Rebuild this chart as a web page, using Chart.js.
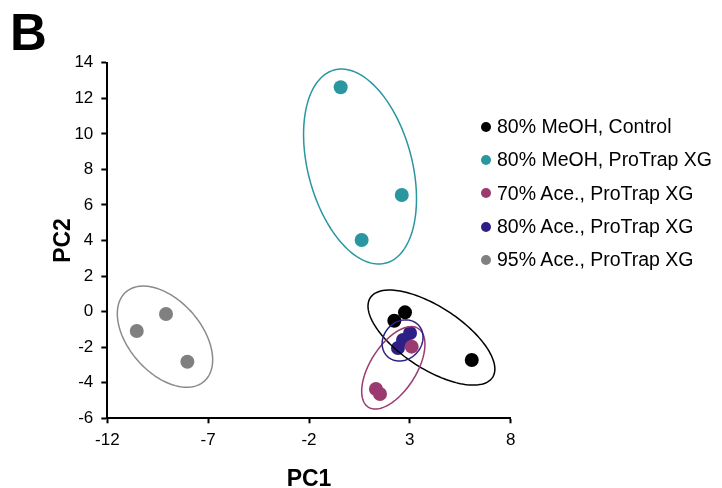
<!DOCTYPE html>
<html><head><meta charset="utf-8">
<script src="https://cdn.jsdelivr.net/npm/chart.js@4"></script>
<style>
html,body{margin:0;padding:0;background:#fff;}
#wrap{position:relative;width:722px;height:488px;font-family:"Liberation Sans",Arial,sans-serif;color:#000;}
canvas{position:absolute;left:0;top:0;}
#panel{position:absolute;left:10px;top:7px;font-weight:bold;font-size:51px;line-height:51px;}
#legend{position:absolute;left:481px;top:110px;font-size:19.5px;}
.item{height:33.3px;display:flex;align-items:center;white-space:nowrap;}
.dot{width:10px;height:10px;border-radius:50%;margin-right:6px;flex:none;}
</style></head>
<body>
<div id="wrap">
<canvas id="c" width="722" height="488"></canvas>
<div id="panel">B</div>
<div id="legend"></div>
</div>
<script>
// ---- data ----
const seriesLabels = ["80% MeOH, Control", "80% MeOH, ProTrap XG", "70% Ace., ProTrap XG", "80% Ace., ProTrap XG", "95% Ace., ProTrap XG"];
const meohControlPC1 = [2.23, 2.76, 6.07];
const meohControlPC2 = [-0.51, -0.04, -2.72];
const meohProTrapPC1 = [-0.43, 2.60, 0.61];
const meohProTrapPC2 = [12.62, 6.56, 4.03];
const ace70PC1 = [1.32, 1.52, 3.09];
const ace70PC2 = [-4.35, -4.63, -1.97];
const ace80PC1 = [2.41, 2.66, 3.01];
const ace80PC2 = [-2.05, -1.60, -1.20];
const ace95PC1 = [-10.54, -9.09, -8.03];
const ace95PC2 = [-1.09, -0.13, -2.82];
const xTicks = [-12, -7, -2, 3, 8];
const yTicks = [-6, -4, -2, 0, 2, 4, 6, 8, 10, 12, 14];
// grouping ellipses (data units): centre, semi-major vector, semi-minor vector
const ellipseCenterPC1 = [4.07, 0.53, 2.18, 2.64, -9.14];
const ellipseCenterPC2 = [-1.46, 8.16, -3.16, -1.62, -1.41];
const ellipseMajorPC1 = [3.03, 1.28, 1.24, 0.77, 1.94];
const ellipseMajorPC2 = [-2.24, -5.43, 2.21, 0.88, -2.51];
const ellipseMinorPC1 = [-0.84, 2.49, 0.96, 0.66, -1.35];
const ellipseMinorPC2 = [-1.46, 0.76, -0.70, -0.75, -1.34];

const seriesPC1 = [meohControlPC1, meohProTrapPC1, ace70PC1, ace80PC1, ace95PC1];
const seriesPC2 = [meohControlPC2, meohProTrapPC2, ace70PC2, ace80PC2, ace95PC2];
const colors = ["#000000", "#2a96a0", "#9b3a6e", "#2e1f86", "#808080"];
const ellipseColors = ["#000000", "#2a96a0", "#9b3a6e", "#2e1f86", "#8a8a8a"];

const datasets = seriesLabels.map((lab, i) => ({
  label: lab,
  data: seriesPC1[i].map((v, k) => ({x: v, y: seriesPC2[i][k]})),
  backgroundColor: colors[i],
  borderWidth: 0,
  pointRadius: 7,
  pointHoverRadius: 7
}));

const ellipsePlugin = {
  id: 'ellipses',
  afterDatasetsDraw(chart) {
    const {ctx, scales: {x, y}} = chart;
    ctx.save();
    for (let i = 0; i < ellipseCenterPC1.length; i++) {
      const cx = x.getPixelForValue(ellipseCenterPC1[i]);
      const cy = y.getPixelForValue(ellipseCenterPC2[i]);
      const ux = x.getPixelForValue(ellipseCenterPC1[i] + ellipseMajorPC1[i]) - cx;
      const uy = y.getPixelForValue(ellipseCenterPC2[i] + ellipseMajorPC2[i]) - cy;
      const vx = x.getPixelForValue(ellipseCenterPC1[i] + ellipseMinorPC1[i]) - cx;
      const vy = y.getPixelForValue(ellipseCenterPC2[i] + ellipseMinorPC2[i]) - cy;
      ctx.beginPath();
      const N = 160;
      for (let k = 0; k <= N; k++) {
        const t = k / N * 2 * Math.PI;
        const px = cx + ux * Math.cos(t) + vx * Math.sin(t);
        const py = cy + uy * Math.cos(t) + vy * Math.sin(t);
        if (k === 0) ctx.moveTo(px, py); else ctx.lineTo(px, py);
      }
      ctx.closePath();
      ctx.strokeStyle = ellipseColors[i];
      ctx.lineWidth = 1.5;
      ctx.stroke();
    }
    ctx.restore();
  }
};

const font = {family: '"Liberation Sans", Arial, sans-serif'};

new Chart(document.getElementById('c'), {
  type: 'scatter',
  data: {datasets},
  plugins: [ellipsePlugin],
  options: {
    responsive: false,
    animation: false,
    events: [],
    layout: {padding: {left: 0, top: 62.7, right: 211.3, bottom: 0}},
    plugins: {legend: {display: false}, tooltip: {enabled: false}},
    scales: {
      x: {
        type: 'linear', min: -12, max: 8,
        afterBuildTicks: s => { s.ticks = xTicks.map(v => ({value: v})); },
        afterFit: s => { s.height = 488 - 418.3; },
        grid: {display: true, drawOnChartArea: false, drawTicks: true, tickLength: 5, tickWidth: 2, tickColor: '#000'},
        border: {display: true, color: '#000', width: 2},
        ticks: {color: '#000', font: {...font, size: 17}, padding: 7, maxRotation: 0},
        title: {display: true, text: 'PC1', color: '#000', font: {...font, size: 23, weight: 'bold', lineHeight: 1}, padding: {top: 0, bottom: -3}}
      },
      y: {
        type: 'linear', min: -6, max: 14,
        afterBuildTicks: s => { s.ticks = yTicks.map(v => ({value: v})); },
        afterFit: s => { s.width = 107.3; },
        grid: {display: true, drawOnChartArea: false, drawTicks: true, tickLength: 6, tickWidth: 2, tickColor: '#000'},
        border: {display: true, color: '#000', width: 2},
        ticks: {color: '#000', font: {...font, size: 17}, padding: 8},
        title: {display: true, text: 'PC2', color: '#000', font: {...font, size: 23, weight: 'bold', lineHeight: 1}, padding: {top: 52, bottom: 0}}
      }
    }
  }
});

// HTML legend built from series arrays
const leg = document.getElementById('legend');
seriesLabels.forEach((lab, i) => {
  const it = document.createElement('div'); it.className = 'item';
  const d = document.createElement('span'); d.className = 'dot'; d.style.background = colors[i];
  const t = document.createElement('span'); t.textContent = lab;
  it.appendChild(d); it.appendChild(t); leg.appendChild(it);
});
</script>
</body></html>
